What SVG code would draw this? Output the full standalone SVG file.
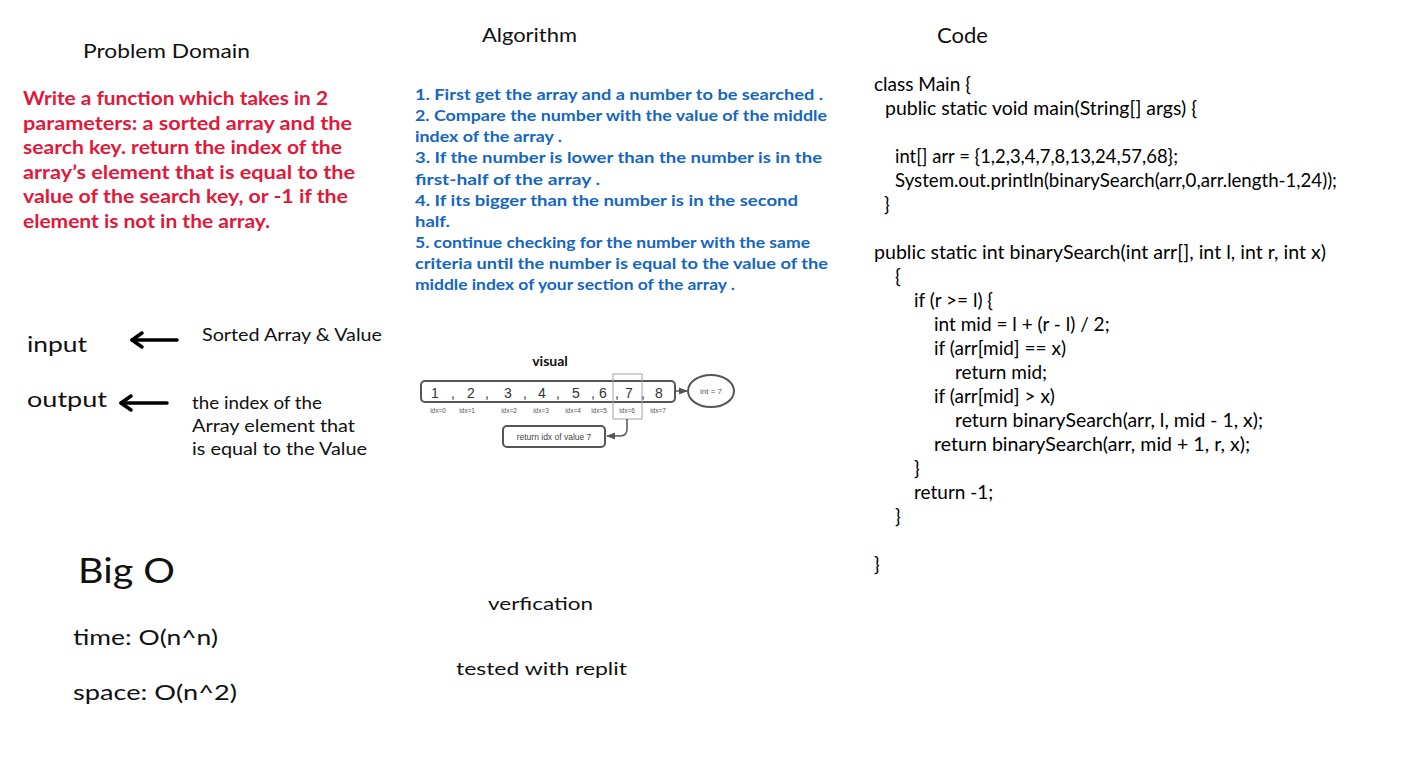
<svg xmlns="http://www.w3.org/2000/svg" width="1416" height="757" viewBox="0 0 1416 757">
<style>
.h{font-family:Lato,"Open Sans",sans-serif;fill:#111}
.red{font-family:Lato,"Open Sans",sans-serif;fill:#e3173a;font-size:18px;font-weight:bold}
.blue{font-family:Lato,"Open Sans",sans-serif;fill:#1466c0;font-size:15px;font-weight:bold}
.code{font-family:Lato,"Open Sans",sans-serif;fill:#000;font-size:19px}
.num{font-family:"Liberation Sans",Arial,sans-serif;fill:#333;font-size:14px;text-anchor:middle}
.idx{font-family:"Liberation Sans",Arial,sans-serif;fill:#555;font-size:6.5px;text-anchor:middle}
.arr{stroke:#000;stroke-width:3.5;fill:none;stroke-linecap:round;stroke-linejoin:round}
</style>
<defs>
<marker id="tri" viewBox="0 0 10 10" refX="9" refY="5" markerWidth="6" markerHeight="6" orient="auto">
<path d="M0 1 L10 5 L0 9 Z" fill="#555"/>
</marker>
</defs>
<rect width="1416" height="757" fill="#fff"/>

<g id="problem-domain">
<text class="h" x="83" y="58" font-size="20" textLength="167" lengthAdjust="spacingAndGlyphs">Problem Domain</text>
<text class="red" x="23" y="105" textLength="305" lengthAdjust="spacingAndGlyphs">Write a function which takes in 2</text>
<text class="red" x="23" y="130" textLength="329" lengthAdjust="spacingAndGlyphs">parameters: a sorted array and the</text>
<text class="red" x="23" y="154" textLength="319" lengthAdjust="spacingAndGlyphs">search key. return the index of the</text>
<text class="red" x="23" y="179" textLength="332" lengthAdjust="spacingAndGlyphs">array’s element that is equal to the</text>
<text class="red" x="23" y="203" textLength="325" lengthAdjust="spacingAndGlyphs">value of the search key, or -1 if the</text>
<text class="red" x="23" y="228" textLength="247" lengthAdjust="spacingAndGlyphs">element is not in the array.</text>
</g>

<g id="algorithm">
<text class="h" x="482" y="42" font-size="20" textLength="95" lengthAdjust="spacingAndGlyphs">Algorithm</text>
<text class="blue" x="415" y="100" textLength="408" lengthAdjust="spacingAndGlyphs">1. First get the array and a number to be searched .</text>
<text class="blue" x="415" y="121" textLength="412" lengthAdjust="spacingAndGlyphs">2. Compare the number with the value of the middle</text>
<text class="blue" x="415" y="142" textLength="147" lengthAdjust="spacingAndGlyphs">index of the array .</text>
<text class="blue" x="415" y="163" textLength="407" lengthAdjust="spacingAndGlyphs">3. If the number is lower than the number is in the</text>
<text class="blue" x="415" y="185" textLength="185" lengthAdjust="spacingAndGlyphs">first-half of the array .</text>
<text class="blue" x="415" y="206" textLength="383" lengthAdjust="spacingAndGlyphs">4. If its bigger than the number is in the second</text>
<text class="blue" x="415" y="227" textLength="35" lengthAdjust="spacingAndGlyphs">half.</text>
<text class="blue" x="415" y="248" textLength="395" lengthAdjust="spacingAndGlyphs">5. continue checking for the number with the same</text>
<text class="blue" x="415" y="269" textLength="413" lengthAdjust="spacingAndGlyphs">criteria until the number is equal to the value of the</text>
<text class="blue" x="415" y="290" textLength="320" lengthAdjust="spacingAndGlyphs">middle index of your section of the array .</text>
</g>

<g id="code">
<text class="h" x="937" y="43" font-size="22" textLength="51" lengthAdjust="spacingAndGlyphs">Code</text>
<text class="code" x="874" y="91">class Main {</text>
<text class="code" x="885" y="115" textLength="312" lengthAdjust="spacingAndGlyphs">public static void main(String[] args) {</text>
<text class="code" x="895" y="163" textLength="283" lengthAdjust="spacingAndGlyphs">int[] arr = {1,2,3,4,7,8,13,24,57,68};</text>
<text class="code" x="895" y="187" textLength="442" lengthAdjust="spacingAndGlyphs">System.out.println(binarySearch(arr,0,arr.length-1,24));</text>
<text class="code" x="884" y="211">}</text>
<text class="code" x="874" y="259" textLength="452" lengthAdjust="spacingAndGlyphs">public static int binarySearch(int arr[], int l, int r, int x)</text>
<text class="code" x="895" y="283">{</text>
<text class="code" x="914" y="307">if (r &gt;= l) {</text>
<text class="code" x="934" y="331">int mid = l + (r - l) / 2;</text>
<text class="code" x="934" y="355">if (arr[mid] == x)</text>
<text class="code" x="955" y="379">return mid;</text>
<text class="code" x="934" y="403">if (arr[mid] &gt; x)</text>
<text class="code" x="955" y="427" textLength="308" lengthAdjust="spacingAndGlyphs">return binarySearch(arr, l, mid - 1, x);</text>
<text class="code" x="934" y="451" textLength="316" lengthAdjust="spacingAndGlyphs">return binarySearch(arr, mid + 1, r, x);</text>
<text class="code" x="914" y="475">}</text>
<text class="code" x="914" y="499">return -1;</text>
<text class="code" x="895" y="523">}</text>
<text class="code" x="874" y="571">}</text>
</g>

<g id="input">
<text class="h" x="27" y="352" font-size="22" textLength="60" lengthAdjust="spacingAndGlyphs">input</text>
<text class="h" x="202" y="341" font-size="17" textLength="180" lengthAdjust="spacingAndGlyphs">Sorted Array &amp;  Value</text>
</g>
<g id="output">
<text class="h" x="27" y="407" font-size="22" textLength="80" lengthAdjust="spacingAndGlyphs">output</text>
<text class="h" x="192" y="409" font-size="17" textLength="130" lengthAdjust="spacingAndGlyphs">the index of the</text>
<text class="h" x="192" y="432" font-size="17" textLength="163" lengthAdjust="spacingAndGlyphs">Array element that</text>
<text class="h" x="192" y="455" font-size="17" textLength="175" lengthAdjust="spacingAndGlyphs">is equal to the Value</text>
</g>

<g id="visual">
<text class="h" x="550" y="366" font-size="14" text-anchor="middle" font-weight="bold">visual</text>
<rect id="array-box" x="421" y="381" width="254" height="21" rx="4" fill="#fff" stroke="#555" stroke-width="2"/>
<rect id="highlight" x="613" y="374" width="29" height="45" fill="none" stroke="#9aa3b0" stroke-width="1"/>
<g id="values">
<text class="num" x="435" y="398">1</text><text class="num" x="453" y="398">,</text>
<text class="num" x="471" y="398">2</text><text class="num" x="487" y="398">,</text>
<text class="num" x="508" y="398">3</text><text class="num" x="525" y="398">,</text>
<text class="num" x="542" y="398">4</text><text class="num" x="558" y="398">,</text>
<text class="num" x="576" y="398">5</text><text class="num" x="593" y="398">,</text>
<text class="num" x="603" y="398">6</text><text class="num" x="617" y="398">,</text>
<text class="num" x="629" y="398">7</text><text class="num" x="643" y="398">,</text>
<text class="num" x="659" y="398">8</text>
</g>
<g id="indices">
<text class="idx" x="438" y="413">idx=0</text>
<text class="idx" x="467" y="413">idx=1</text>
<text class="idx" x="509" y="413">idx=2</text>
<text class="idx" x="541" y="413">idx=3</text>
<text class="idx" x="573" y="413">idx=4</text>
<text class="idx" x="599" y="413">idx=5</text>
<text class="idx" x="627" y="413">idx=6</text>
<text class="idx" x="658" y="413">idx=7</text>
</g>
<g id="target">
<ellipse cx="711" cy="391" rx="23" ry="16" fill="#fff" stroke="#555" stroke-width="2"/>
<text x="711" y="394" font-family="Liberation Sans, Arial, sans-serif" font-size="8" fill="#555" text-anchor="middle">int = 7</text>
</g>
<g id="result">
<rect x="503" y="426" width="102" height="21" rx="4" fill="#fff" stroke="#555" stroke-width="2"/>
<text x="554" y="440" font-family="Liberation Sans, Arial, sans-serif" font-size="8.5" fill="#444" text-anchor="middle">return idx of value 7</text>
</g>
</g>

<g id="connectors">
<line class="arr" x1="177" y1="340" x2="132" y2="340"/>
<polyline class="arr" points="142,333 132,340 142,347"/>
<line class="arr" x1="167" y1="403" x2="121" y2="403"/>
<polyline class="arr" points="131,396 121,403 131,410"/>
<line x1="675" y1="391" x2="687" y2="391" stroke="#555" stroke-width="1.5" marker-end="url(#tri)"/>
<path d="M627 419 L627 429 Q627 436 620 436 L607 436" fill="none" stroke="#555" stroke-width="1.5" marker-end="url(#tri)"/>
</g>

<g id="big-o">
<text class="h" x="78" y="583" font-size="34" textLength="97" lengthAdjust="spacingAndGlyphs">Big O</text>
<text class="h" x="73" y="645" font-size="22" textLength="145" lengthAdjust="spacingAndGlyphs">time: O(n^n)</text>
<text class="h" x="73" y="700" font-size="22" textLength="164" lengthAdjust="spacingAndGlyphs">space: O(n^2)</text>
</g>

<g id="verification">
<text class="h" x="488" y="610" font-size="18" textLength="105" lengthAdjust="spacingAndGlyphs">verfication</text>
<text class="h" x="456" y="675" font-size="18" textLength="171" lengthAdjust="spacingAndGlyphs">tested with replit</text>
</g>
</svg>
